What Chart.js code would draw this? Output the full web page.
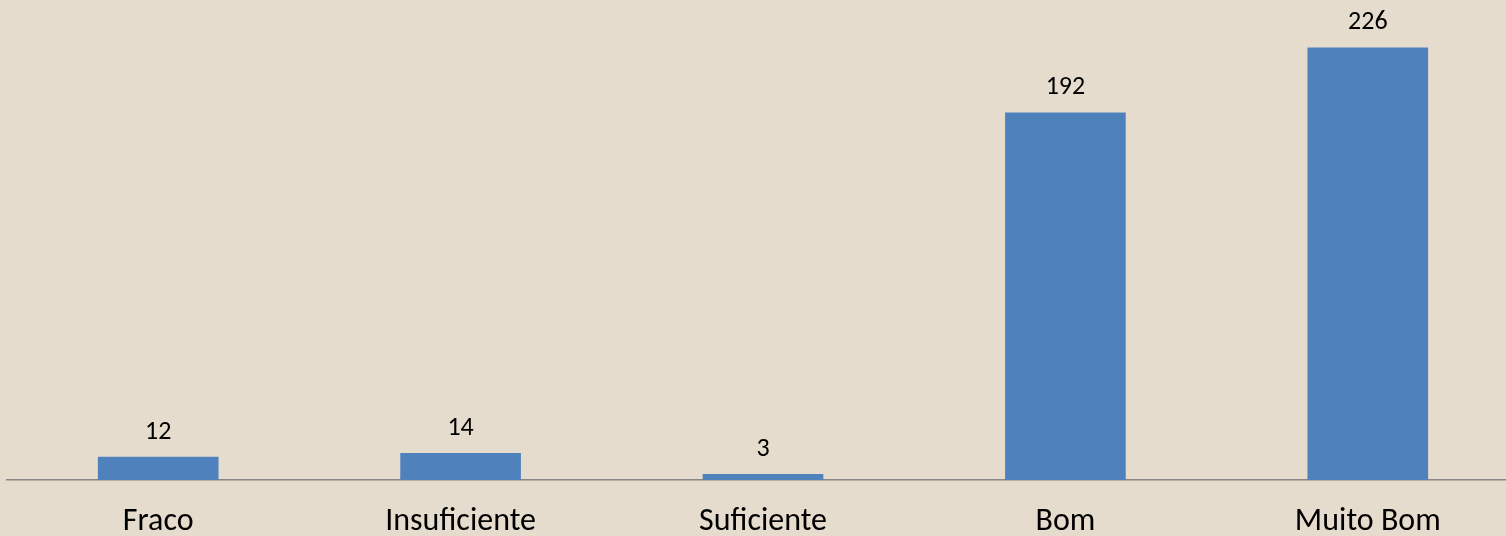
<!DOCTYPE html>
<html>
<head>
<meta charset="utf-8">
<script src="https://cdn.jsdelivr.net/npm/chart.js@4"></script>
<style>
  html, body { margin: 0; padding: 0; overflow: hidden; background: #e5dccd; }
  #wrap { position: relative; width: 1526px; height: 536px; }
</style>
</head>
<body>
<div id="wrap"><canvas id="myChart"></canvas></div>
<script>
// categories and counts
var categorias = ["Fraco", "Insuficiente", "Suficiente", "Bom", "Muito Bom"];
var respostas = [12, 14, 3, 192, 226];

// draws the value above every bar
var valueLabels = {
  id: 'valueLabels',
  afterDatasetsDraw: function(chart) {
    var ctx = chart.ctx;
    var meta = chart.getDatasetMeta(0);
    ctx.save();
    ctx.font = '26px Carlito, Lato, sans-serif';
    ctx.fillStyle = '#000';
    ctx.textAlign = 'center';
    ctx.textBaseline = 'middle';
    meta.data.forEach(function(bar, i) {
      ctx.fillText(chart.data.datasets[0].data[i], bar.x, bar.y - 25);
    });
    ctx.restore();
  }
};

var ctx = document.getElementById("myChart");
var myChart = new Chart(ctx, {
  type: 'bar',
  data: {
    labels: categorias,
    datasets: [{
      data: respostas,
      backgroundColor: "#4f81bd",
      barThickness: 120
    }]
  },
  options: {
    responsive: true,
    maintainAspectRatio: false,
    animation: false,
    layout: { padding: { top: 2, left: 7, right: 7, bottom: 0 } },
    plugins: { legend: { display: false }, tooltip: { enabled: false } },
    scales: {
      x: {
        grid: { display: false },
        border: { display: true, color: '#878787', width: 1.5 },
        afterFit: function(scale) { scale.height = 56; },
        ticks: {
          color: '#000',
          padding: 15,
          font: { family: 'Carlito, Lato, sans-serif', size: 32 }
        }
      },
      y: {
        display: false,
        min: 0,
        max: 250
      }
    }
  },
  plugins: [valueLabels]
});
</script>
</body>
</html>
